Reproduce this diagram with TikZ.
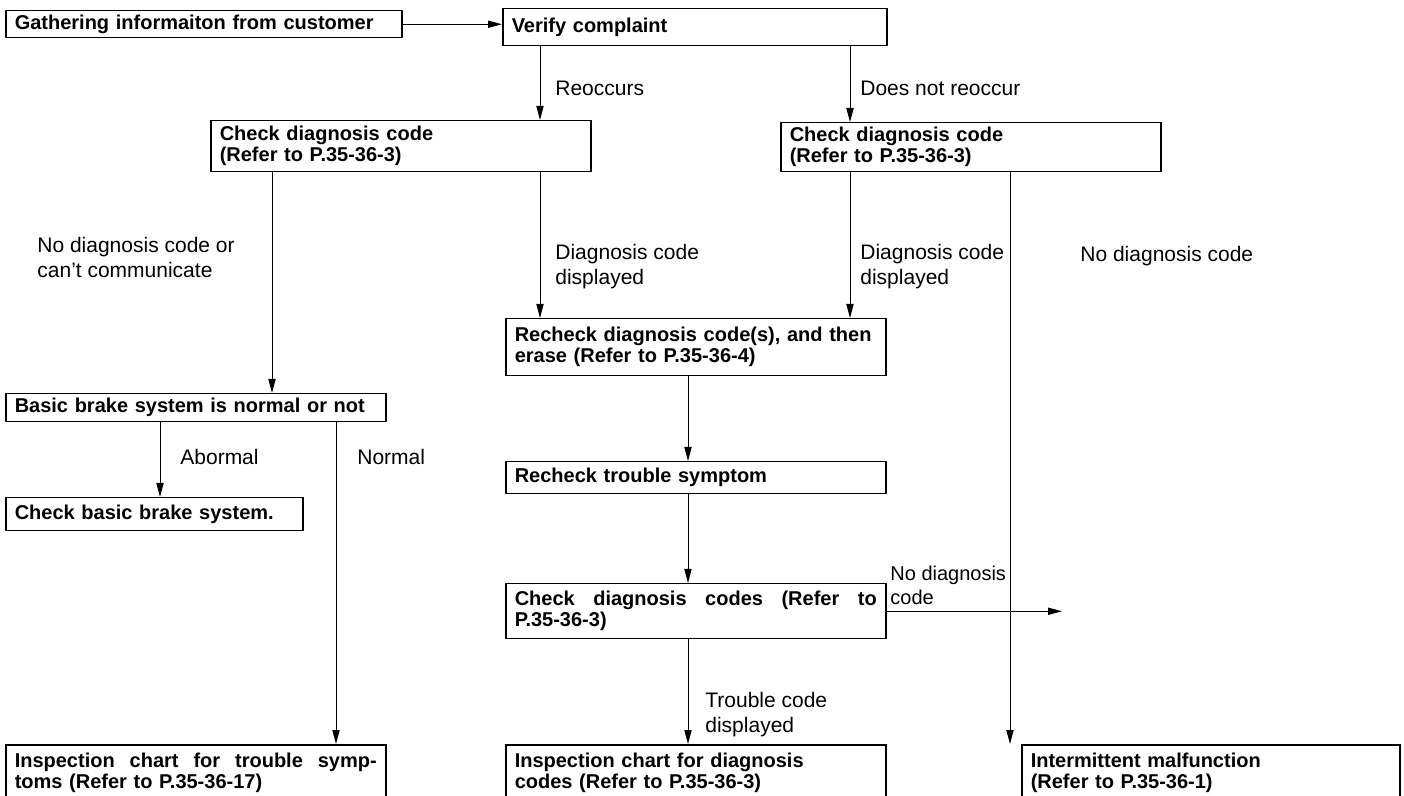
\documentclass[tikz,border=0pt]{standalone}
\usepackage{fontspec}
\setmainfont{Liberation Sans}
\usetikzlibrary{arrows.meta}
\begin{document}
\begin{tikzpicture}[x=0.5pt,y=-0.5pt,
  box/.style={draw,line width=0.75pt,anchor=north west,inner xsep=4.5pt,inner ysep=0pt,
    font=\bfseries\fontsize{10}{10.5}\selectfont,align=left},
  lbl/.style={anchor=west,inner sep=0pt,font=\fontsize{10.5}{12.5}\selectfont,align=left},
  arr/.style={line width=0.5pt,-{Triangle[length=7pt,width=3.6pt]}}]
\useasboundingbox (0,0) rectangle (1404,796);
\clip (0,0) rectangle (1404,796);
% column coordinates
\coordinate (cA) at (540,0);
\coordinate (cB) at (850,0);
\coordinate (cC) at (272,0);
\coordinate (cD) at (1010,0);
\coordinate (cE) at (160,0);
\coordinate (cF) at (336,0);
\coordinate (cG) at (688,0);
\coordinate (cEnd) at (1062,0);
% boxes
\node[box,minimum width=198pt,minimum height=13.5pt,text width=189pt] (b1) at (5,10) {Gathering informaiton from customer};
\node[box,minimum width=192pt,minimum height=18.5pt,text width=183pt] (b2) at (502,8) {Verify complaint};
\node[box,minimum width=190pt,minimum height=25.5pt,text width=181pt] (bL) at (210,120) {Check diagnosis code\\(Refer to P.35-36-3)};
\node[box,minimum width=190pt,minimum height=24.5pt,text width=181pt] (bR) at (780,122) {Check diagnosis code\\(Refer to P.35-36-3)};
\node[box,minimum width=190pt,minimum height=14pt,text width=181pt] (bBasic) at (5,393) {Basic brake system is normal or not};
\node[box,minimum width=190pt,minimum height=28.5pt,text width=181pt] (bRe) at (505,318) {Recheck diagnosis code(s), and then\\erase (Refer to P.35-36-4)};
\node[box,minimum width=148.5pt,minimum height=16.5pt,text width=139.5pt] (bCB) at (5,497) {Check basic brake system.};
\node[box,minimum width=190pt,minimum height=16pt,text width=181pt] (bRt) at (505,461) {Recheck trouble symptom};
\node[box,minimum width=190pt,minimum height=27.5pt,text width=181pt] (bCdc) at (505,583) {\hbox to 181pt{Check\hfill diagnosis\hfill codes\hfill (Refer\hfill to}\\P.35-36-3)};
\node[box,minimum width=190pt,minimum height=28pt,text width=181pt] (bI1) at (5,744) {\hbox to 181pt{Inspection\hfill chart\hfill for\hfill trouble\hfill symp-}\\toms (Refer to P.35-36-17)};
\node[box,minimum width=190pt,minimum height=28pt,text width=181pt] (bI2) at (505,744) {Inspection chart for diagnosis\\codes (Refer to P.35-36-3)};
\node[box,minimum width=189pt,minimum height=28pt,text width=180pt] (bInt) at (1021,744) {Intermittent malfunction\\(Refer to P.35-36-1)};
% connectors
\draw[arr] (b1.east) -- (b2.west |- b1.east);
\draw[arr] (b2.south -| cA) -- (bL.north -| cA);
\draw[arr] (b2.south -| cB) -- (bR.north -| cB);
\draw[arr] (bL.south -| cC) -- (bBasic.north -| cC);
\draw[arr] (bL.south -| cA) -- (bRe.north -| cA);
\draw[arr] (bR.south -| cB) -- (bRe.north -| cB);
\draw[arr] (bR.south -| cD) -- (bInt.north -| cD);
\draw[arr] (bBasic.south -| cE) -- (bCB.north -| cE);
\draw[arr] (bBasic.south -| cF) -- (bI1.north -| cF);
\draw[arr] (bRe.south -| cG) -- (bRt.north -| cG);
\draw[arr] (bRt.south -| cG) -- (bCdc.north -| cG);
\draw[arr] (bCdc.south -| cG) -- (bI2.north -| cG);
\draw[arr] (bCdc.east) -- (bCdc.east -| cEnd);
% labels
\node[lbl] (l1) at (555,88) {Reoccurs};
\node[lbl] (l2) at (860,88) {Does not reoccur};
\node[lbl] (l3) at (37,257) {No diagnosis code or\\can’t communicate};
\node[lbl] (l4) at (555,267) {Diagnosis code\\displayed};
\node[lbl] (l5) at (860,267) {Diagnosis code\\displayed};
\node[lbl] (l6) at (1080,256) {No diagnosis code};
\node[lbl] (l7) at (180,457) {Abormal};
\node[lbl] (l8) at (357,457) {Normal};
\node[lbl,font=\fontsize{10}{12}\selectfont] (l9) at (890,585) {No diagnosis\\code};
\node[lbl] (l10) at (705,715) {Trouble code\\displayed};
\end{tikzpicture}
\end{document}
